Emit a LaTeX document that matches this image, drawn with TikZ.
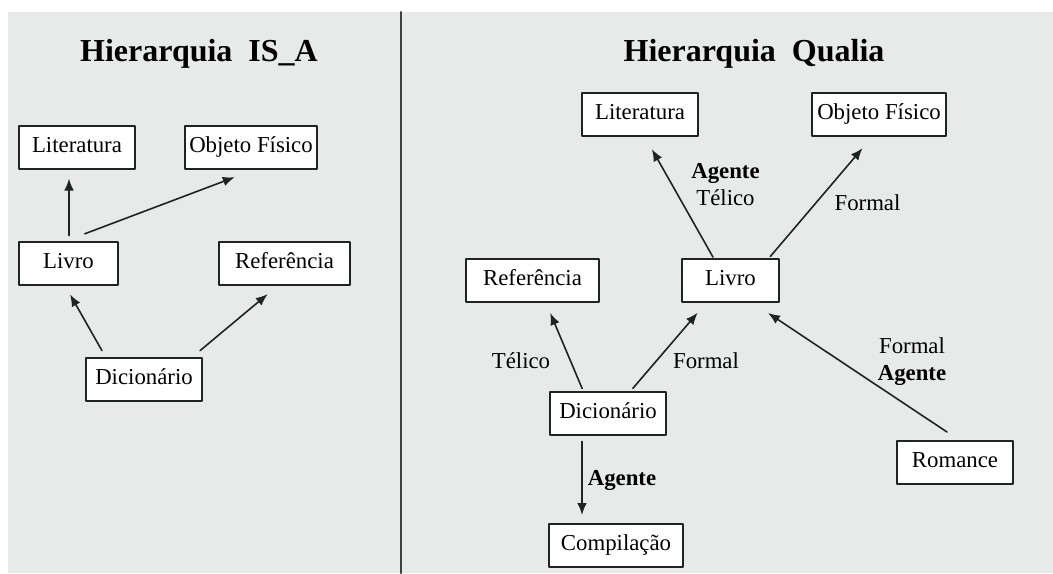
\documentclass[tikz,border=0pt]{standalone}
\usepackage{fontspec}
\setmainfont{Liberation Serif}
\usetikzlibrary{arrows.meta}
\definecolor{panelgray}{HTML}{E8E9E9}
\definecolor{inkdark}{HTML}{1E2424}

\begin{document}
\begin{tikzpicture}[x=0.5pt,y=-0.5pt,>={Latex[length=6pt,width=4.8pt]},line cap=round,line join=round,
  box/.style={draw=inkdark,line width=1pt,fill=white,inner sep=0pt,text height=8pt,text depth=3pt,minimum height=21.5pt,font=\fontsize{11.4}{13}\selectfont},
  lbl/.style={anchor=base,inner sep=0pt,font=\fontsize{11.4}{13}\selectfont},
  lblb/.style={anchor=base,inner sep=0pt,font=\fontsize{11.4}{13}\selectfont\bfseries},
  ttl/.style={anchor=base,inner sep=0pt,font=\fontsize{16}{19}\selectfont\bfseries},
  arr/.style={->,draw=inkdark,line width=0.8pt}]
\useasboundingbox (0,0) rectangle (1053,573);
\fill[white] (0,0) rectangle (1053,573);
\fill[panelgray] (8,12) rectangle (1053,573);
\draw[line width=1pt,draw=black!75] (401,12) -- (401,573);
% IS_A
\node[ttl] (ttlA) at (199,61.5) {Hierarquia\ \ IS\_A};
\node[box,minimum width=58pt] (litL) at (77,147) {Literatura};
\node[box,minimum width=66pt] (objL) at (251,147) {Objeto Físico};
\node[box,minimum width=49.5pt] (livroL) at (68.5,263) {Livro};
\node[box,minimum width=65.5pt] (refL) at (284.5,263) {Referência};
\node[box,minimum width=58pt] (dicL) at (144,379) {Dicionário};
\draw[arr,shorten <=2.5pt,shorten >=4.5pt] ([xshift=0.25pt]livroL.north) -- ([xshift=-4pt]litL.south);
\draw[arr,shorten <=9.5pt,shorten >=10.8pt] ([xshift=-0.75pt]livroL.north) -- ([xshift=2pt]objL.south);
\draw[arr,shorten <=3.4pt,shorten >=5.1pt] ([xshift=-19.35pt]dicL.north) -- ([xshift=-1.75pt]livroL.south);
\draw[arr,shorten <=4.6pt,shorten >=6.7pt] ([xshift=24.5pt]dicL.north) -- ([xshift=-3.25pt]refL.south);
% Qualia
\node[ttl] (ttlQ) at (754,61) {Hierarquia\ \ Qualia};
\node[box,minimum width=58pt] (litR) at (640,114.5) {Literatura};
\node[box,minimum width=67pt] (objR) at (879,114.5) {Objeto Físico};
\node[box,minimum width=66.5pt] (refR) at (532.5,280.5) {Referência};
\node[box,minimum width=48.5pt] (livroR) at (730.5,280.5) {Livro};
\node[box,minimum width=58pt] (dicR) at (608,413) {Dicionário};
\node[box,minimum width=67pt] (compR) at (616,545.5) {Compilação};
\node[box,minimum width=58pt] (romR) at (955,462.5) {Romance};
\draw[arr,shorten <=0.5pt,shorten >=7pt] ([xshift=-8.5pt]livroR.north) -- ([xshift=2.5pt]litR.south);
\draw[arr,shorten <=1pt,shorten >=7.3pt] ([xshift=19.25pt]livroR.north) -- ([xshift=-3.5pt]objR.south);
\draw[arr,shorten <=1.1pt,shorten >=5.4pt] ([xshift=-12.5pt]dicR.north) -- ([xshift=6.75pt]refR.south);
\draw[arr,shorten <=1.4pt,shorten >=6.4pt] ([xshift=11.5pt]dicR.north) -- ([xshift=-12.25pt]livroR.south);
\draw[arr,shorten <=7.2pt,shorten >=9pt] ([xshift=2pt]romR.north) -- ([xshift=11.25pt]livroR.south);
\draw[arr,shorten <=3pt,shorten >=4pt] ([xshift=-13pt]dicR.south) -- ([xshift=-17pt]compR.north);
\node[lblb] (agLit) at (725.5,178) {Agente};
\node[lbl] (telLit) at (725.5,205) {Télico};
\node[lbl] (fmObj) at (867.5,210) {Formal};
\node[lbl] (telRef) at (521,368) {Télico};
\node[lbl] (fmLiv) at (706,368) {Formal};
\node[lbl] (fmRom) at (912,353) {Formal};
\node[lblb] (agRom) at (912,380) {Agente};
\node[lblb] (agComp) at (622,485) {Agente};
\end{tikzpicture}
\end{document}
